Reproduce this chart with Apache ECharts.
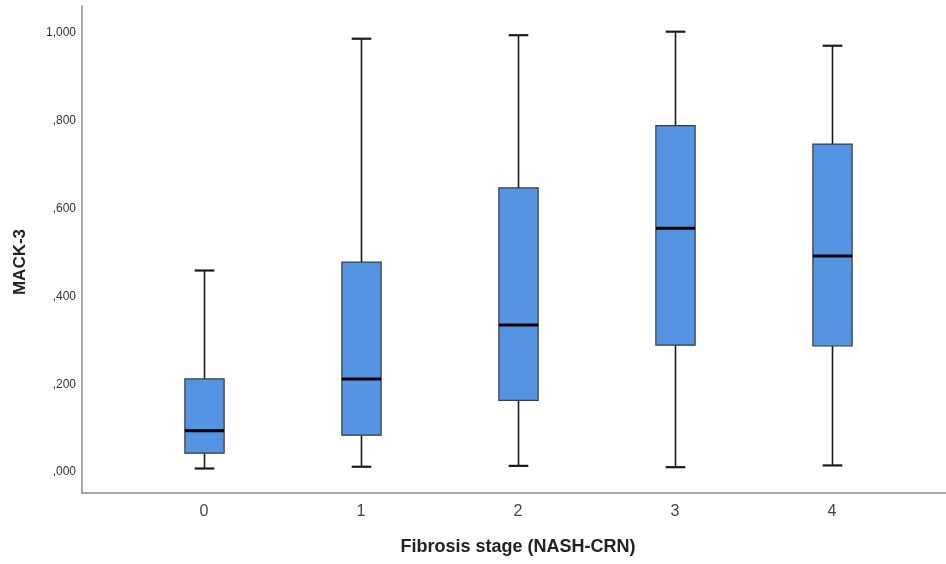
<!DOCTYPE html>
<html>
<head>
<meta charset="utf-8">
<script src="https://cdn.jsdelivr.net/npm/echarts@6/dist/echarts.min.js"></script>
<style>html,body{margin:0;padding:0;background:#fff;}#chart{width:946px;height:564px;}</style>
</head>
<body>
<div id="chart"></div>
<script>
// Fibrosis stage categories
const categories = ['0', '1', '2', '3', '4'];
// Box statistics: [low whisker, Q1, median, Q3, high whisker]
const lowWhisker = [0.008, 0.012, 0.014, 0.011, 0.015];
const q1Values   = [0.043, 0.084, 0.163, 0.289, 0.287];
const medians    = [0.094, 0.212, 0.335, 0.555, 0.492];
const q3Values   = [0.212, 0.478, 0.647, 0.789, 0.747];
const highWhisker= [0.459, 0.987, 0.995, 1.003, 0.971];
const yTicks = [0, 0.2, 0.4, 0.6, 0.8, 1.0];

const Y_MIN = -0.0478, Y_MAX = 1.0615;

const data = categories.map((c, i) => [i, lowWhisker[i], q1Values[i], medians[i], q3Values[i], highWhisker[i]]);

function fmt(v) {
  return v.toFixed(3).replace('.', ',').replace(/^0/, '');
}

const chart = echarts.init(document.getElementById('chart'), null, {renderer: 'canvas'});

chart.setOption({
  animation: false,
  backgroundColor: '#ffffff',
  grid: [
    {left: 82, right: 0, top: 6, bottom: 71},
    {left: 125.5, right: 35.5, top: 6, bottom: 71},
    {left: 82, right: 0, top: 31, bottom: 71}
  ],
  xAxis: [
    {
      gridIndex: 0, type: 'value', min: 0, max: 1,
      axisLine: {show: true, onZero: false, lineStyle: {color: '#8a8a8a', width: 1.5}},
      axisTick: {show: false}, axisLabel: {show: false}, splitLine: {show: false}
    },
    {
      gridIndex: 1, type: 'category', data: categories,
      axisLine: {show: false, onZero: false}, axisTick: {show: false}, splitLine: {show: false},
      axisLabel: {margin: 11, fontFamily: 'Liberation Sans', fontSize: 16, color: '#444'},
      name: 'Fibrosis stage (NASH-CRN)', nameLocation: 'middle', nameGap: 45,
      nameTextStyle: {fontFamily: 'Liberation Sans', fontSize: 18, fontWeight: 'bold', color: '#222'}
    },
    {
      gridIndex: 2, type: 'value', min: 0, max: 1, show: false
    }
  ],
  yAxis: [
    {
      gridIndex: 0, type: 'value', min: Y_MIN, max: Y_MAX,
      axisLine: {show: true, onZero: false, lineStyle: {color: '#8a8a8a', width: 1.5}},
      axisTick: {show: false}, splitLine: {show: false},
      axisLabel: {
        margin: 6, fontFamily: 'Liberation Sans', fontSize: 12, color: '#333',
        customValues: yTicks,
        formatter: fmt
      }
    },
    {
      gridIndex: 1, type: 'value', min: Y_MIN, max: Y_MAX, show: false
    },
    {
      gridIndex: 2, type: 'value', min: 0, max: 1,
      axisLine: {show: false, onZero: false}, axisTick: {show: false}, axisLabel: {show: false}, splitLine: {show: false},
      name: 'MACK-3', nameLocation: 'middle', nameGap: 53,
      nameTextStyle: {fontFamily: 'Liberation Sans', fontSize: 17, fontWeight: 'bold', color: '#222'}
    }
  ],
  series: [{
    type: 'custom',
    xAxisIndex: 1, yAxisIndex: 1,
    data: data,
    encode: {x: 0, y: [1, 2, 3, 4, 5]},
    renderItem: function (params, api) {
      const x = api.value(0);
      const pLow = api.coord([x, api.value(1)]);
      const pQ1 = api.coord([x, api.value(2)]);
      const pMed = api.coord([x, api.value(3)]);
      const pQ3 = api.coord([x, api.value(4)]);
      const pHigh = api.coord([x, api.value(5)]);
      const bw = api.size([1, 0])[0] * 0.25;
      const cx = Math.round(pMed[0]) + 0.5;
      const capHalf = bw / 4;
      const wStyle = {stroke: '#1a1a1a', lineWidth: 1.6};
      return {
        type: 'group',
        children: [
          {type: 'line', shape: {x1: cx, y1: pLow[1], x2: cx, y2: pQ1[1]}, style: wStyle},
          {type: 'line', shape: {x1: cx, y1: pQ3[1], x2: cx, y2: pHigh[1]}, style: wStyle},
          {type: 'line', shape: {x1: cx - capHalf, y1: pLow[1], x2: cx + capHalf, y2: pLow[1]}, style: {stroke: '#1a1a1a', lineWidth: 2.2}},
          {type: 'line', shape: {x1: cx - capHalf, y1: pHigh[1], x2: cx + capHalf, y2: pHigh[1]}, style: {stroke: '#1a1a1a', lineWidth: 2.2}},
          {type: 'rect', shape: {x: cx - bw / 2, y: pQ3[1], width: bw, height: pQ1[1] - pQ3[1]},
            style: {fill: '#5594e2', stroke: '#3a3a3a', lineWidth: 1.2}},
          {type: 'line', shape: {x1: cx - bw / 2, y1: pMed[1], x2: cx + bw / 2, y2: pMed[1]}, style: {stroke: '#000', lineWidth: 3}}
        ]
      };
    }
  }]
});
</script>
</body>
</html>
